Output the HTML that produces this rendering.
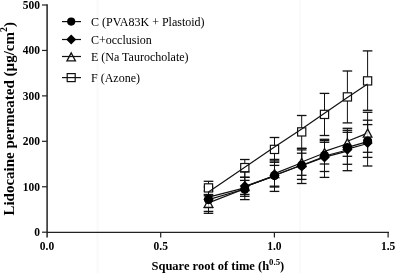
<!DOCTYPE html>
<html><head><meta charset="utf-8"><style>
html,body{margin:0;padding:0;background:#fff;width:396px;height:273px;overflow:hidden;}
svg{display:block;will-change:transform;}
text{font-family:"Liberation Serif",serif;}
</style></head><body>
<svg width="396" height="273" viewBox="0 0 396 273">
<rect width="396" height="273" fill="#fff"/>
<rect x="299" y="0" width="2" height="273" fill="#fafafa"/>
<rect x="96.5" y="0" width="2" height="273" fill="#fafafa"/>
<line x1="47.1" y1="4.3" x2="47.1" y2="237.6" stroke="#222" stroke-width="1.5"/><line x1="46.4" y1="232.4" x2="389" y2="232.4" stroke="#222" stroke-width="1.1"/><g stroke="#222" stroke-width="1.2"><line x1="42" y1="232.20" x2="47" y2="232.20"/><line x1="42" y1="186.76" x2="47" y2="186.76"/><line x1="42" y1="141.32" x2="47" y2="141.32"/><line x1="42" y1="95.88" x2="47" y2="95.88"/><line x1="42" y1="50.44" x2="47" y2="50.44"/><line x1="42" y1="5.00" x2="47" y2="5.00"/><line x1="160.70" y1="232" x2="160.70" y2="237.5"/><line x1="274.40" y1="232" x2="274.40" y2="237.5"/><line x1="388.10" y1="232" x2="388.10" y2="237.5"/></g><g font-weight="bold" font-size="11.5"><text x="40" y="236.20" text-anchor="end">0</text><text x="40" y="190.76" text-anchor="end">100</text><text x="40" y="145.32" text-anchor="end">200</text><text x="40" y="99.88" text-anchor="end">300</text><text x="40" y="54.44" text-anchor="end">400</text><text x="40" y="9.00" text-anchor="end">500</text><text x="47.00" y="249.5" text-anchor="middle">0.0</text><text x="160.70" y="249.5" text-anchor="middle">0.5</text><text x="274.40" y="249.5" text-anchor="middle">1.0</text><text x="388.10" y="249.5" text-anchor="middle">1.5</text></g>
<text x="151.5" y="269.8" font-weight="bold" font-size="12.5">Square root of time (h<tspan font-size="8.8" dy="-4.5">0.5</tspan><tspan dy="4.5">)</tspan></text><text transform="translate(13.6,215.6) rotate(-90)" x="0" y="0" font-weight="bold" font-size="15">Lidocaine permeated (µg/cm<tspan font-size="9.8" dy="-6.8">2</tspan><tspan dy="6.8">)</tspan></text>
<g stroke="#111" stroke-width="1.3"><line x1="208.50" y1="181.30" x2="208.50" y2="194.50" stroke-width="1.0"/><line x1="203.70" y1="181.30" x2="213.30" y2="181.30"/><line x1="203.70" y1="194.50" x2="213.30" y2="194.50"/><line x1="244.80" y1="159.50" x2="244.80" y2="177.30" stroke-width="1.0"/><line x1="240.00" y1="159.50" x2="249.60" y2="159.50"/><line x1="240.00" y1="177.30" x2="249.60" y2="177.30"/><line x1="274.50" y1="137.50" x2="274.50" y2="162.30" stroke-width="1.0"/><line x1="269.70" y1="137.50" x2="279.30" y2="137.50"/><line x1="269.70" y1="162.30" x2="279.30" y2="162.30"/><line x1="301.70" y1="115.50" x2="301.70" y2="148.40" stroke-width="1.0"/><line x1="296.90" y1="115.50" x2="306.50" y2="115.50"/><line x1="296.90" y1="148.40" x2="306.50" y2="148.40"/><line x1="324.50" y1="93.40" x2="324.50" y2="135.50" stroke-width="1.0"/><line x1="319.70" y1="93.40" x2="329.30" y2="93.40"/><line x1="319.70" y1="135.50" x2="329.30" y2="135.50"/><line x1="347.40" y1="71.00" x2="347.40" y2="122.90" stroke-width="1.0"/><line x1="342.60" y1="71.00" x2="352.20" y2="71.00"/><line x1="342.60" y1="122.90" x2="352.20" y2="122.90"/><line x1="367.60" y1="50.90" x2="367.60" y2="110.30" stroke-width="1.0"/><line x1="362.80" y1="50.90" x2="372.40" y2="50.90"/><line x1="362.80" y1="110.30" x2="372.40" y2="110.30"/></g><g stroke="#111" stroke-width="1.3"><line x1="208.50" y1="195.70" x2="208.50" y2="211.40" stroke-width="1.0"/><line x1="203.70" y1="195.70" x2="213.30" y2="195.70"/><line x1="203.70" y1="211.40" x2="213.30" y2="211.40"/><line x1="244.80" y1="172.00" x2="244.80" y2="196.30" stroke-width="1.0"/><line x1="240.00" y1="172.00" x2="249.60" y2="172.00"/><line x1="240.00" y1="196.30" x2="249.60" y2="196.30"/><line x1="274.50" y1="160.90" x2="274.50" y2="187.00" stroke-width="1.0"/><line x1="269.70" y1="160.90" x2="279.30" y2="160.90"/><line x1="269.70" y1="187.00" x2="279.30" y2="187.00"/><line x1="301.70" y1="149.90" x2="301.70" y2="175.30" stroke-width="1.0"/><line x1="296.90" y1="149.90" x2="306.50" y2="149.90"/><line x1="296.90" y1="175.30" x2="306.50" y2="175.30"/><line x1="324.50" y1="142.30" x2="324.50" y2="164.00" stroke-width="1.0"/><line x1="319.70" y1="142.30" x2="329.30" y2="142.30"/><line x1="319.70" y1="164.00" x2="329.30" y2="164.00"/><line x1="347.40" y1="130.30" x2="347.40" y2="156.30" stroke-width="1.0"/><line x1="342.60" y1="130.30" x2="352.20" y2="130.30"/><line x1="342.60" y1="156.30" x2="352.20" y2="156.30"/><line x1="367.60" y1="112.30" x2="367.60" y2="152.30" stroke-width="1.0"/><line x1="362.80" y1="112.30" x2="372.40" y2="112.30"/><line x1="362.80" y1="152.30" x2="372.40" y2="152.30"/></g><g stroke="#111" stroke-width="1.3"><line x1="208.50" y1="191.00" x2="208.50" y2="207.60" stroke-width="1.0"/><line x1="203.70" y1="191.00" x2="213.30" y2="191.00"/><line x1="203.70" y1="207.60" x2="213.30" y2="207.60"/><line x1="244.80" y1="180.40" x2="244.80" y2="194.40" stroke-width="1.0"/><line x1="240.00" y1="180.40" x2="249.60" y2="180.40"/><line x1="240.00" y1="194.40" x2="249.60" y2="194.40"/><line x1="274.50" y1="165.40" x2="274.50" y2="186.20" stroke-width="1.0"/><line x1="269.70" y1="165.40" x2="279.30" y2="165.40"/><line x1="269.70" y1="186.20" x2="279.30" y2="186.20"/><line x1="301.70" y1="153.20" x2="301.70" y2="179.40" stroke-width="1.0"/><line x1="296.90" y1="153.20" x2="306.50" y2="153.20"/><line x1="296.90" y1="179.40" x2="306.50" y2="179.40"/><line x1="324.50" y1="139.30" x2="324.50" y2="177.40" stroke-width="1.0"/><line x1="319.70" y1="139.30" x2="329.30" y2="139.30"/><line x1="319.70" y1="177.40" x2="329.30" y2="177.40"/><line x1="347.40" y1="132.30" x2="347.40" y2="164.30" stroke-width="1.0"/><line x1="342.60" y1="132.30" x2="352.20" y2="132.30"/><line x1="342.60" y1="164.30" x2="352.20" y2="164.30"/><line x1="367.60" y1="120.20" x2="367.60" y2="166.00" stroke-width="1.0"/><line x1="362.80" y1="120.20" x2="372.40" y2="120.20"/><line x1="362.80" y1="166.00" x2="372.40" y2="166.00"/></g><g stroke="#111" stroke-width="1.3"><line x1="208.50" y1="187.00" x2="208.50" y2="213.30" stroke-width="1.0"/><line x1="203.70" y1="187.00" x2="213.30" y2="187.00"/><line x1="203.70" y1="213.30" x2="213.30" y2="213.30"/><line x1="244.80" y1="177.30" x2="244.80" y2="199.60" stroke-width="1.0"/><line x1="240.00" y1="177.30" x2="249.60" y2="177.30"/><line x1="240.00" y1="199.60" x2="249.60" y2="199.60"/><line x1="274.50" y1="159.40" x2="274.50" y2="191.40" stroke-width="1.0"/><line x1="269.70" y1="159.40" x2="279.30" y2="159.40"/><line x1="269.70" y1="191.40" x2="279.30" y2="191.40"/><line x1="301.70" y1="148.40" x2="301.70" y2="183.50" stroke-width="1.0"/><line x1="296.90" y1="148.40" x2="306.50" y2="148.40"/><line x1="296.90" y1="183.50" x2="306.50" y2="183.50"/><line x1="324.50" y1="140.60" x2="324.50" y2="171.50" stroke-width="1.0"/><line x1="319.70" y1="140.60" x2="329.30" y2="140.60"/><line x1="319.70" y1="171.50" x2="329.30" y2="171.50"/><line x1="347.40" y1="128.30" x2="347.40" y2="170.70" stroke-width="1.0"/><line x1="342.60" y1="128.30" x2="352.20" y2="128.30"/><line x1="342.60" y1="170.70" x2="352.20" y2="170.70"/><line x1="367.60" y1="124.60" x2="367.60" y2="157.40" stroke-width="1.0"/><line x1="362.80" y1="124.60" x2="372.40" y2="124.60"/><line x1="362.80" y1="157.40" x2="372.40" y2="157.40"/></g><rect x="204.40" y="183.80" width="8.2" height="8.2" fill="#fff" stroke="#111" stroke-width="1.2"/><rect x="240.70" y="163.50" width="8.2" height="8.2" fill="#fff" stroke="#111" stroke-width="1.2"/><rect x="270.40" y="145.30" width="8.2" height="8.2" fill="#fff" stroke="#111" stroke-width="1.2"/><rect x="297.60" y="127.80" width="8.2" height="8.2" fill="#fff" stroke="#111" stroke-width="1.2"/><rect x="320.40" y="110.30" width="8.2" height="8.2" fill="#fff" stroke="#111" stroke-width="1.2"/><rect x="343.30" y="92.80" width="8.2" height="8.2" fill="#fff" stroke="#111" stroke-width="1.2"/><rect x="363.50" y="76.80" width="8.2" height="8.2" fill="#fff" stroke="#111" stroke-width="1.2"/><polyline points="208.50,192.00 244.80,167.20 274.50,147.00 301.70,129.10 324.50,113.30 347.40,97.40 367.60,84.10" fill="none" stroke="#111" stroke-width="1.2" stroke-linejoin="round"/><g stroke="#111" stroke-width="1.2" stroke-linecap="round"><line x1="208.50" y1="202.90" x2="244.80" y2="188.80"/><line x1="244.80" y1="187.00" x2="274.50" y2="175.60"/><line x1="274.50" y1="173.60" x2="301.70" y2="162.70"/><line x1="301.70" y1="162.00" x2="324.50" y2="153.00"/><line x1="324.50" y1="151.40" x2="347.40" y2="143.70"/><line x1="347.40" y1="141.30" x2="367.60" y2="133.10"/></g><g stroke="#111" stroke-width="1.2" stroke-linecap="round"><line x1="208.50" y1="197.10" x2="244.80" y2="187.80"/><line x1="244.80" y1="186.40" x2="274.50" y2="175.90"/><line x1="274.50" y1="175.50" x2="301.70" y2="165.20"/><line x1="301.70" y1="165.60" x2="324.50" y2="157.20"/><line x1="324.50" y1="157.20" x2="347.40" y2="151.20"/><line x1="347.40" y1="149.10" x2="367.60" y2="143.50"/></g><g stroke="#111" stroke-width="1.2" stroke-linecap="round"><line x1="208.50" y1="199.60" x2="244.80" y2="189.00"/><line x1="244.80" y1="186.80" x2="274.50" y2="176.00"/><line x1="274.50" y1="175.30" x2="301.70" y2="165.00"/><line x1="301.70" y1="165.20" x2="324.50" y2="156.60"/><line x1="324.50" y1="156.00" x2="347.40" y2="150.00"/><line x1="347.40" y1="147.40" x2="367.60" y2="141.70"/></g><polygon points="208.50,199.11 204.20,207.28 212.80,207.28" fill="rgba(255,255,255,0.8)" stroke="#111" stroke-width="1.3"/><polygon points="244.80,182.51 240.50,190.68 249.10,190.68" fill="rgba(255,255,255,0.8)" stroke="#111" stroke-width="1.3"/><polygon points="274.50,169.51 270.20,177.68 278.80,177.68" fill="rgba(255,255,255,0.8)" stroke="#111" stroke-width="1.3"/><polygon points="301.70,158.41 297.40,166.58 306.00,166.58" fill="rgba(255,255,255,0.8)" stroke="#111" stroke-width="1.3"/><polygon points="324.50,148.51 320.20,156.68 328.80,156.68" fill="rgba(255,255,255,0.8)" stroke="#111" stroke-width="1.3"/><polygon points="347.40,138.71 343.10,146.88 351.70,146.88" fill="rgba(255,255,255,0.8)" stroke="#111" stroke-width="1.3"/><polygon points="367.60,129.01 363.30,137.18 371.90,137.18" fill="rgba(255,255,255,0.8)" stroke="#111" stroke-width="1.3"/><polygon points="208.50,194.10 213.60,199.20 208.50,204.30 203.40,199.20" fill="#000"/><polygon points="244.80,181.00 249.90,186.10 244.80,191.20 239.70,186.10" fill="#000"/><polygon points="274.50,170.60 279.60,175.70 274.50,180.80 269.40,175.70" fill="#000"/><polygon points="301.70,161.20 306.80,166.30 301.70,171.40 296.60,166.30" fill="#000"/><polygon points="324.50,152.30 329.60,157.40 324.50,162.50 319.40,157.40" fill="#000"/><polygon points="347.40,144.50 352.50,149.60 347.40,154.70 342.30,149.60" fill="#000"/><polygon points="367.60,137.80 372.70,142.90 367.60,148.00 362.50,142.90" fill="#000"/><circle cx="208.50" cy="199.60" r="4.6" fill="#000"/><circle cx="244.80" cy="189.20" r="4.6" fill="#000"/><circle cx="274.50" cy="175.40" r="4.6" fill="#000"/><circle cx="301.70" cy="165.30" r="4.6" fill="#000"/><circle cx="324.50" cy="155.40" r="4.6" fill="#000"/><circle cx="347.40" cy="147.50" r="4.6" fill="#000"/><circle cx="367.60" cy="141.10" r="4.6" fill="#000"/>
<line x1="62" y1="21.6" x2="81" y2="21.6" stroke="#111" stroke-width="1.2"/><circle cx="71.20" cy="21.60" r="4.1" fill="#000"/><text x="91" y="25.60" font-size="12">C (PVA83K + Plastoid)</text><line x1="62" y1="39.5" x2="81" y2="39.5" stroke="#111" stroke-width="1.2"/><polygon points="71.20,34.50 76.20,39.50 71.20,44.50 66.20,39.50" fill="#000"/><text x="91" y="43.50" font-size="12">C+occlusion</text><line x1="62" y1="56.5" x2="81" y2="56.5" stroke="#111" stroke-width="1.2"/><polygon points="71.20,52.86 66.95,60.93 75.45,60.93" fill="none" stroke="#111" stroke-width="1.3"/><text x="91" y="60.50" font-size="12">E (Na Taurocholate)</text><line x1="62" y1="77.6" x2="81" y2="77.6" stroke="#111" stroke-width="1.2"/><rect x="67.20" y="73.60" width="8" height="8" fill="none" stroke="#111" stroke-width="1.2"/><text x="91" y="81.60" font-size="12">F (Azone)</text>
</svg>
</body></html>
